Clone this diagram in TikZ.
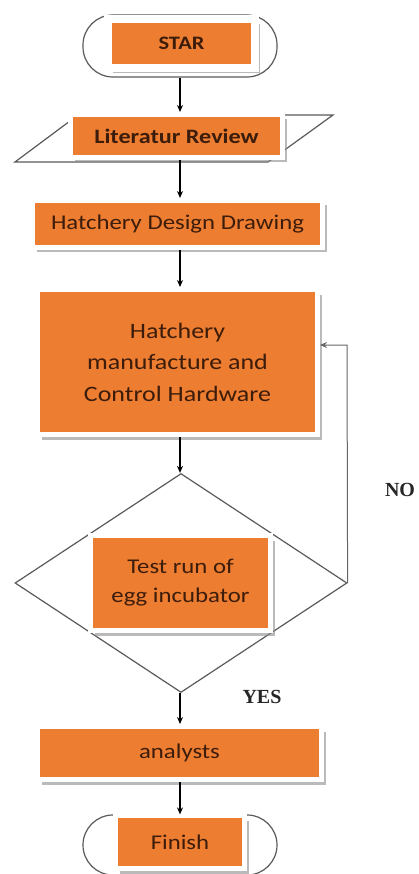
\documentclass[tikz,border=0pt]{standalone}
\usepackage{fontspec}
\setmainfont{Carlito}
\newfontfamily\calfont[FakeStretch=1.18]{Carlito}
\newfontfamily\serfont{Liberation Serif}
\usetikzlibrary{shapes.geometric,shadows,arrows.meta}
\definecolor{boxorange}{RGB}{237,125,49}
\definecolor{boxtext}{RGB}{60,28,10}
\definecolor{outl}{RGB}{90,90,90}
\begin{document}
\begin{tikzpicture}[x=1pt,y=-1pt,
  obox/.style={rectangle,fill=boxorange,draw=white,line width=5pt,
    drop shadow={shadow xshift=4.5pt,shadow yshift=-5pt,fill=black!45,opacity=0.6},
    text=boxtext,font=\calfont\fontsize{21}{29}\selectfont,align=center,inner sep=0pt},
  stad/.style={rectangle,rounded corners=30pt,draw=outl,line width=1.2pt,minimum width=194pt},
  arr/.style={-{Stealth[length=7pt,width=6pt]},line width=1.3pt,black},
  lab/.style={font=\serfont\bfseries\fontsize{20}{24}\selectfont,text=black!85}
]
\clip (0,0) rectangle (418,874);
\fill[white] (0,0) rectangle (418,874);
\coordinate (ax) at (180,0);
% start
\node[stad,minimum height=62pt] (startout) at (180,46) {};
\node[obox,line width=8pt,minimum width=147pt,minimum height=49pt,
  font=\calfont\bfseries\fontsize{19}{23}\selectfont] (star) at (181.5,43.5) {STAR};
% literature
\draw[outl,line width=1.2pt] (15,162) -- (268,162) -- (333,115) -- (78,115) -- cycle;
\node[obox,minimum width=212pt,minimum height=43pt,
  font=\calfont\bfseries\fontsize{20.5}{24}\selectfont] (lit) at (176.5,136) {Literatur Review};
% design
\node[obox,minimum width=290pt,minimum height=47pt] (design) at (177.5,224) {Hatchery Design Drawing};
% manufacture
\node[obox,minimum width=280pt,minimum height=145pt,
  font=\calfont\fontsize{22}{31.5}\selectfont] (manu) at (177.5,362) {Hatchery\\manufacture and\\Control Hardware};
% decision
\node[diamond,draw=outl,line width=1.2pt,minimum width=332pt,minimum height=219pt,inner sep=0pt] (dec) at (181,583) {};
\node[obox,minimum width=180pt,minimum height=95pt] (test) at (180.5,583) {Test run of\\egg incubator};
% analysts
\node[obox,minimum width=284pt,minimum height=53pt] (anal) at (179.5,753) {analysts};
% finish
\node[stad,minimum height=60pt] (finout) at (180,845) {};
\node[obox,minimum width=129pt,minimum height=53pt] (fin) at (180,842) {Finish};
% arrows
\draw[arr] (startout.south -| ax) -- (lit.north -| ax);
\draw[arr] (lit.south -| ax) -- (design.north -| ax);
\draw[arr] (design.south -| ax) -- (manu.north -| ax);
\draw[arr] (manu.south -| ax) -- (dec.north -| ax);
\draw[arr] (dec.south -| ax) -- (anal.north -| ax);
\draw[arr] (anal.south -| ax) -- (finout.north -| ax);
% feedback
\coordinate (fb) at (347,345);
\draw[-{Stealth[length=7pt,width=6pt]},draw=black!60,line width=1pt] (dec.east) -- (fb) -- (fb -| manu.east);
\node[lab] (no) at (400,490) {NO};
\node[lab] (yes) at (262,697) {YES};
\end{tikzpicture}
\end{document}
